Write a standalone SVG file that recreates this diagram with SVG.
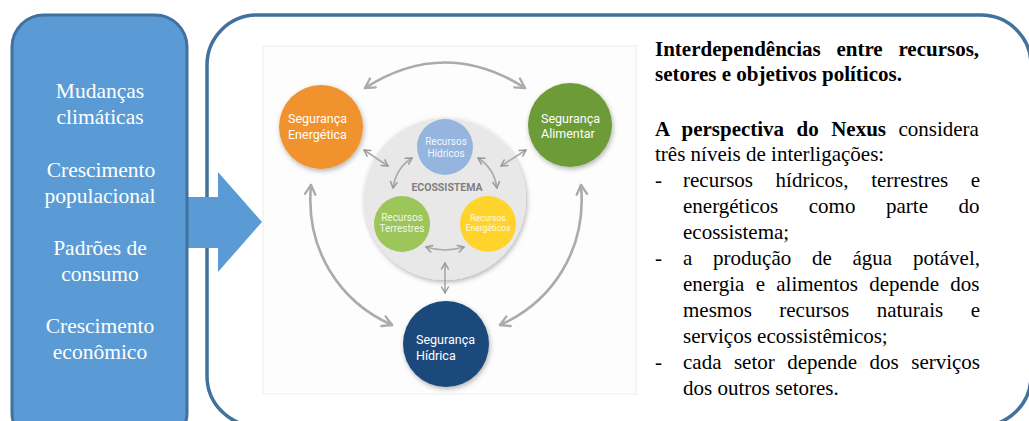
<svg xmlns="http://www.w3.org/2000/svg" width="1029" height="421" viewBox="0 0 1029 421">
<style>
.lt{font-family:"Liberation Serif","Times New Roman",serif;font-size:21.5px;fill:#ffffff;text-anchor:middle}
.rt{font-family:"Liberation Serif","Times New Roman",serif;font-size:21px;fill:#000000}
.b{font-weight:bold}
.ct{font-family:Roboto,"Open Sans",sans-serif;fill:#ffffff}
.arr{fill:none;stroke:#ababab;stroke-linecap:round}
.big{stroke-width:2.6;marker-start:url(#ahb);marker-end:url(#ahb)}
.sm{stroke-width:1.7;marker-start:url(#ahs);marker-end:url(#ahs)}
</style>
<defs>
<marker id="ahb" viewBox="0 0 12 12" refX="10" refY="6" markerWidth="14" markerHeight="14" markerUnits="userSpaceOnUse" orient="auto-start-reverse">
<path d="M2,1.5 L10,6 L2,10.5" fill="none" stroke="#ababab" stroke-width="2" stroke-linecap="round" stroke-linejoin="round"/>
</marker>
<marker id="ahs" viewBox="0 0 12 12" refX="10" refY="6" markerWidth="9" markerHeight="9" markerUnits="userSpaceOnUse" orient="auto-start-reverse">
<path d="M2,1.5 L10,6 L2,10.5" fill="none" stroke="#9a9a9a" stroke-width="2" stroke-linecap="round" stroke-linejoin="round"/>
</marker>
<filter id="sh" x="-30%" y="-30%" width="160%" height="160%">
<feDropShadow dx="1" dy="2" stdDeviation="2.5" flood-color="#000" flood-opacity="0.3"/>
</filter>
</defs>

<g id="nexus-box">
<rect x="207" y="15" width="824" height="411" rx="50" fill="#ffffff" stroke="#41719C" stroke-width="3.5"/>
<rect x="263" y="46" width="373" height="348" fill="#fdfdfd" stroke="#ececec" stroke-width="1"/>
</g>

<g id="arrow-main">
<path d="M185,197 H218 V172 L262,222 L218,272 V248 H185 Z" fill="#5B9BD5"/>
</g>

<g id="drivers">
<rect x="12" y="15" width="175" height="430" rx="32" fill="#5B9BD5" stroke="#41719C" stroke-width="3"/>
<text class="lt" x="100" y="98">Mudanças</text>
<text class="lt" x="100" y="124">climáticas</text>
<text class="lt" x="101" y="177">Crescimento</text>
<text class="lt" x="100" y="203">populacional</text>
<text class="lt" x="100" y="255">Padrões de</text>
<text class="lt" x="100" y="281">consumo</text>
<text class="lt" x="100" y="333">Crescimento</text>
<text class="lt" x="100" y="359">econômico</text>
</g>

<g id="ecossistema">
<circle cx="445" cy="199" r="81" fill="#e8e8e8" filter="url(#sh)"/>
<text x="447" y="191" font-family="Roboto,'Open Sans',sans-serif" font-size="10.5" font-weight="bold" fill="#7f7f7f" text-anchor="middle">ECOSSISTEMA</text>
</g>

<g id="recursos-hidricos">
<circle cx="445" cy="147" r="28" fill="#95b5df"/>
<text class="ct" x="446" y="145" font-size="10" text-anchor="middle" fill-opacity="0.9">Recursos</text>
<text class="ct" x="446" y="157" font-size="10" text-anchor="middle" fill-opacity="0.9">Hídricos</text>
</g>

<g id="recursos-terrestres">
<circle cx="402" cy="224" r="28" fill="#9cc55a"/>
<text class="ct" x="402" y="221" font-size="10" text-anchor="middle" fill-opacity="0.9">Recursos</text>
<text class="ct" x="402" y="232" font-size="10" text-anchor="middle" fill-opacity="0.9">Terrestres</text>
</g>

<g id="recursos-energeticos">
<circle cx="488" cy="224" r="28" fill="#fed42c"/>
<text class="ct" x="488" y="221" font-size="8.5" text-anchor="middle" fill-opacity="0.9">Recursos</text>
<text class="ct" x="488" y="231" font-size="8.5" text-anchor="middle" fill-opacity="0.9">Energéticos</text>
</g>

<g id="seguranca-energetica">
<circle cx="321" cy="127" r="42" fill="#f0922f" filter="url(#sh)"/>
<text class="ct" x="288" y="123" font-size="12.5">Segurança</text>
<text class="ct" x="288" y="139" font-size="12.5">Energética</text>
</g>

<g id="seguranca-alimentar">
<circle cx="570" cy="125" r="42" fill="#6d9b38" filter="url(#sh)"/>
<text class="ct" x="541" y="123" font-size="12.5">Segurança</text>
<text class="ct" x="541" y="138" font-size="12.5">Alimentar</text>
</g>

<g id="seguranca-hidrica">
<circle cx="446" cy="344" r="43" fill="#1e4a7b" filter="url(#sh)"/>
<text class="ct" x="416" y="344" font-size="12.5">Segurança</text>
<text class="ct" x="416" y="360" font-size="12.5">Hídrica</text>
</g>

<g id="connectors">
<path class="arr big" d="M365,88 Q445,37 525,88"/>
<path class="arr big" d="M311,185 C305,250 340,302 392,325"/>
<path class="arr big" d="M581,185 C587,250 552,302 500,325"/>
<path class="arr sm" d="M364,150 L388,166"/>
<path class="arr sm" d="M526,150 L501,166"/>
<path class="arr sm" d="M412,158 Q396,168 393,188"/>
<path class="arr sm" d="M478,158 Q494,168 497,188"/>
<path class="arr sm" d="M426,247 Q445,253 464,247"/>
<path class="arr sm" d="M445,263 L445,293"/>
</g>

<g id="texto">
<text class="rt b" x="655" y="56" word-spacing="10.5">Interdependências entre recursos,</text>
<text class="rt b" x="655" y="81">setores e objetivos políticos.</text>
<text class="rt" x="655" y="136" word-spacing="7.2"><tspan class="b">A perspectiva do Nexus</tspan> considera</text>
<text class="rt" x="655" y="161">três níveis de interligações:</text>
<text class="rt" x="655" y="187">-</text>
<text class="rt" x="683" y="187" word-spacing="17.4">recursos hídricos, terrestres e</text>
<text class="rt" x="683" y="213" word-spacing="25.3">energéticos como parte do</text>
<text class="rt" x="683" y="239">ecossistema;</text>
<text class="rt" x="655" y="265">-</text>
<text class="rt" x="683" y="265" word-spacing="15.5">a produção de água potável,</text>
<text class="rt" x="683" y="291" word-spacing="6">energia e alimentos depende dos</text>
<text class="rt" x="683" y="317" word-spacing="22.2">mesmos recursos naturais e</text>
<text class="rt" x="683" y="343">serviços ecossistêmicos;</text>
<text class="rt" x="655" y="369">-</text>
<text class="rt" x="683" y="369" word-spacing="7.2">cada setor depende dos serviços</text>
<text class="rt" x="683" y="395">dos outros setores.</text>
</g>
</svg>
